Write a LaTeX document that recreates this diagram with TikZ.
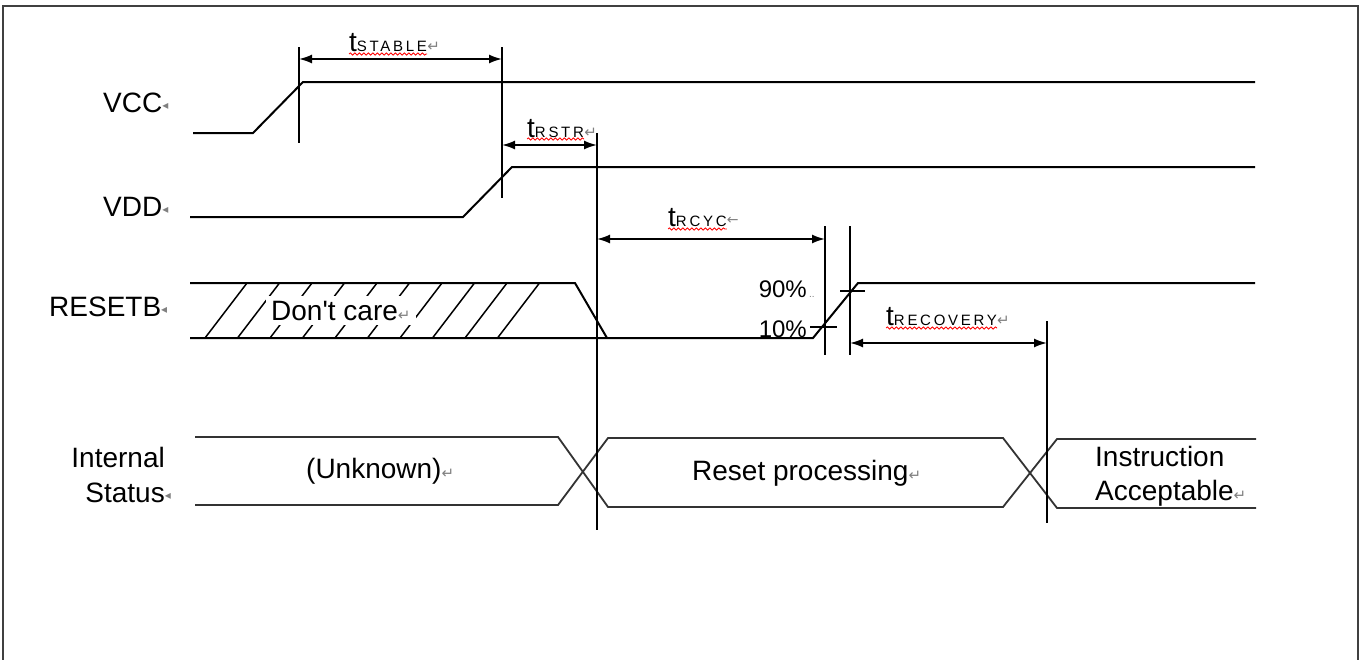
\documentclass[tikz,border=0pt]{standalone}
\usepackage{fontspec}
\setmainfont{Liberation Sans}
\newfontfamily\rawfont{Liberation Sans}
\newfontfamily\dvfont{DejaVu Sans}
\newfontfamily\subfont[LetterSpace=18]{Liberation Sans}
\usetikzlibrary{arrows.meta,decorations.pathmorphing}
\newcommand{\pmk}{{\dvfont\fontsize{15}{15}\selectfont\color{gray}↵}}
\newcommand{\amk}{{\dvfont\fontsize{14}{14}\selectfont\color{gray}\raisebox{2pt}{←}}}
\newcommand{\lmk}{{\dvfont\fontsize{12}{12}\selectfont\color{gray}\raisebox{3pt}{◂}}}
\newcommand{\tsub}[1]{t{\subfont\fontsize{15}{15}\selectfont #1}}
\begin{document}
\begin{tikzpicture}[x=1pt,y=-1pt,
  wave/.style={line width=2pt,line join=miter},
  xwave/.style={line width=1.8pt,draw=black!80},
  vline/.style={line width=2pt},
  dimline/.style={line width=1.8pt,{Latex[length=13pt,width=9pt]}-{Latex[length=13pt,width=9pt]}},
  hatchline/.style={line width=1.5pt},
  tickline/.style={line width=1.6pt},
  lbl/.style={inner sep=0pt,anchor=base west,font=\fontsize{28}{30}\selectfont},
  lble/.style={inner sep=0pt,anchor=base east,font=\fontsize{28}{30}\selectfont},
  pct/.style={inner sep=0pt,anchor=base east,font=\fontsize{24}{26}\selectfont},
  tlbl/.style={inner sep=0pt,anchor=base west,font=\fontsize{28}{30}\selectfont},
  mk/.style={inner sep=0pt,anchor=base west},
  wavy/.style={draw=red,line width=0.8pt,decorate,decoration={snake,amplitude=1.1pt,segment length=4.5pt}},
  frameline/.style={line width=2.4pt,draw=black!75}
]
\useasboundingbox (0,0) rectangle (1363,659);
% frame
\draw[frameline] (3,662) -- (3,6) -- (1358,6) -- (1358,662);

% signal names
\node[lbl] (nvcc) at (103,112) {VCC\lmk};
\node[lbl] (nvdd) at (103,216) {VDD\lmk};
\node[lbl] (nrst) at (49,316) {RESETB\lmk};
\node[lble] (nint) at (165,467) {Internal};
\node[lble] (nsta) at (171,502) {Status\lmk};

% VCC
\coordinate (vcc0) at (193,133);
\coordinate (vcc1) at (253,133);
\coordinate (vcc2) at (303,82);
\coordinate (vcc3) at (1255,82);
\draw[wave] (vcc0) -- (vcc1) -- (vcc2) -- (vcc3);

% VDD
\coordinate (vdd0) at (190,217);
\coordinate (vdd1) at (463,217);
\coordinate (vdd2) at (512,167);
\coordinate (vdd3) at (1255,167);
\draw[wave] (vdd0) -- (vdd1) -- (vdd2) -- (vdd3);

% RESETB
\foreach \i in {0,...,9}
  \draw[hatchline] (205+32.5*\i,338) -- (247+32.5*\i,283);
\coordinate (rt0) at (190,283);
\coordinate (rt1) at (575,283);
\coordinate (rt2) at (607,338);
\coordinate (rb0) at (190,338);
\coordinate (rb1) at (813,338);
\coordinate (rb2) at (858,283);
\coordinate (rb3) at (1255,283);
\draw[wave] (rt0) -- (rt1) -- (rt2);
\draw[wave] (rb0) -- (rb1) -- (rb2) -- (rb3);
\node[lbl,fill=white,inner xsep=5pt,inner ysep=3pt,text height=21pt,text depth=2pt] (dc) at (266,320) {\rawfont Don't care\pmk};

% Internal status
\draw[xwave] (195,437) -- (558,437) -- (608,507) -- (1003,507) -- (1057,439) -- (1256,439);
\draw[xwave] (195,505) -- (558,505) -- (608,438) -- (1003,438) -- (1057,508) -- (1256,508);
\node[lbl] (unk) at (306,478) {(Unknown)\pmk};
\node[lbl] (rp) at (692,480) {Reset processing\pmk};
\node[lbl] (ins) at (1095,466) {Instruction};
\node[lbl] (acc) at (1095,500) {Acceptable\pmk};

% vertical timing markers
\coordinate (m1t) at (299,47);   \coordinate (m1b) at (299,143);
\coordinate (m2t) at (502,47);   \coordinate (m2b) at (502,198);
\coordinate (m3t) at (597,133);  \coordinate (m3b) at (597,530);
\coordinate (m4t) at (825,226);  \coordinate (m4b) at (825,355);
\coordinate (m5t) at (850,226);  \coordinate (m5b) at (850,355);
\coordinate (m6t) at (1047,321); \coordinate (m6b) at (1047,523);
\foreach \m in {m1,m2,m3,m4,m5,m6}
  \draw[vline] (\m t) -- (\m b);

% dimension arrows
\draw[dimline] (m1t |- 0,59) -- (m2t |- 0,59);
\draw[dimline] (m2t |- 0,145) -- (m3t |- 0,145);
\draw[dimline] (m3t |- 0,239) -- (m4t |- 0,239);
\draw[dimline] (m5t |- 0,343) -- (m6t |- 0,343);

% timing labels
\node[tlbl] (tst) at (349,51) {\tsub{STABLE}};
\node[mk] at (tst.base east) {\pmk};
\draw[wavy] ([yshift=-3pt]tst.base west) -- ([yshift=-3pt]tst.base east);

\node[tlbl] (trs) at (527,137) {\tsub{RSTR}};
\node[mk] at (trs.base east) {\pmk};
\draw[wavy] ([yshift=-2pt]trs.base west) -- ([yshift=-2pt]trs.base east);

\node[tlbl] (trc) at (668,226) {\tsub{RCYC}};
\node[mk] at (trc.base east) {\amk};
\draw[wavy] ([yshift=-3pt]trc.base west) -- ([yshift=-3pt]trc.base east);

\node[tlbl] (tre) at (886,325) {\tsub{RECOVERY}};
\node[mk] at (tre.base east) {\pmk};
\draw[wavy] ([yshift=-3pt]tre.base west) -- ([yshift=-3pt]tre.base east);

% 10% / 90%
\node[pct] (p90) at (807,297) {90\%};
\node[mk,font=\fontsize{10}{10}\selectfont,text=gray] at ([xshift=2pt]p90.base east) {..};
\node[pct] (p10) at (807,337) {10\%};
\coordinate (k10a) at (810,327); \coordinate (k10b) at (837,327);
\coordinate (k90a) at (840,291); \coordinate (k90b) at (865,291);
\draw[tickline] (k10a) -- (k10b);
\draw[tickline] (k90a) -- (k90b);
\end{tikzpicture}
\end{document}
